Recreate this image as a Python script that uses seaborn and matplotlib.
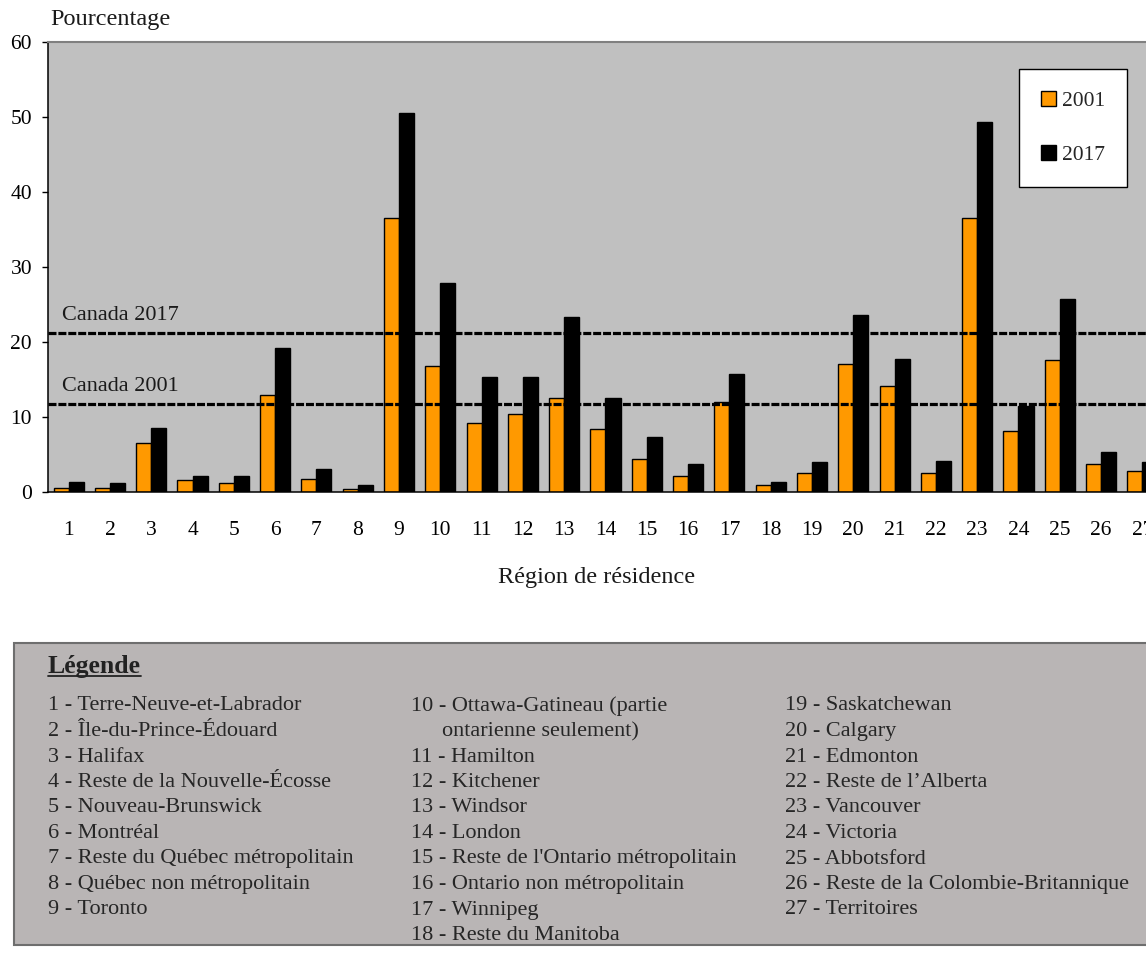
import numpy as np
import pandas as pd
import matplotlib
matplotlib.use("Agg")
import matplotlib.pyplot as plt
import seaborn as sns
from matplotlib.patches import Patch, Rectangle
from matplotlib.lines import Line2D

# ── Data ──────────────────────────────────────────────────────
regions = [str(i) for i in range(1, 28)]
years = ["2001", "2017"]
pct_2001 = [0.6, 0.6, 6.6, 1.6, 1.2, 12.9, 1.8, 0.4, 36.5, 16.8, 9.2, 10.4, 12.6, 8.4,
            4.4, 2.1, 12.0, 0.9, 2.5, 17.1, 14.2, 2.5, 36.5, 8.2, 17.6, 3.7, 2.8]
pct_2017 = [1.4, 1.2, 8.5, 2.2, 2.2, 19.2, 3.1, 1.0, 50.6, 27.9, 15.4, 15.4, 23.3, 12.6,
            7.3, 3.7, 15.7, 1.3, 4.0, 23.6, 17.8, 4.2, 49.4, 11.5, 25.8, 5.4, 4.0]
canada_2001 = 11.7
canada_2017 = 21.2
colors = ["#FF9900", "#000000"]

legend_col1 = ["1 - Terre-Neuve-et-Labrador", "2 - Île-du-Prince-Édouard", "3 - Halifax",
               "4 - Reste de la Nouvelle-Écosse", "5 - Nouveau-Brunswick", "6 - Montréal",
               "7 - Reste du Québec métropolitain", "8 - Québec non métropolitain",
               "9 - Toronto"]
legend_col2 = ["10 - Ottawa-Gatineau (partie", "ontarienne seulement)", "11 - Hamilton",
               "12 - Kitchener", "13 - Windsor", "14 - London",
               "15 - Reste de l'Ontario métropolitain", "16 - Ontario non métropolitain",
               "17 - Winnipeg", "18 - Reste du Manitoba"]
legend_col3 = ["19 - Saskatchewan", "20 - Calgary", "21 - Edmonton", "22 - Reste de l\u2019Alberta",
               "23 - Vancouver", "24 - Victoria", "25 - Abbotsford",
               "26 - Reste de la Colombie-Britannique", "27 - Territoires"]

df = pd.DataFrame({
    "region": regions * 2,
    "year": [years[0]] * len(regions) + [years[1]] * len(regions),
    "pct": pct_2001 + pct_2017,
})

# ── Figure ────────────────────────────────────────────────────
sns.set_theme(style="white")
plt.rcParams["font.family"] = ["Liberation Serif", "DejaVu Serif"]

W, H = 1146, 957
fig = plt.figure(figsize=(W / 100, H / 100), dpi=100)
ax = fig.add_axes([48 / W, 1 - 492 / H, 1115 / W, 450 / H])

sns.barplot(data=df, x="region", y="pct", hue="year", order=regions, hue_order=years,
            palette=colors, saturation=1, width=0.73, edgecolor="black", linewidth=1,
            ax=ax, legend=False, zorder=2)

ax.set_facecolor("#C0C0C0")
ax.set_xlim(-0.5, 26.5)
ax.set_ylim(0, 60)
ax.set_xlabel("")
ax.set_ylabel("")

# Canada reference lines
for val, lab in [(canada_2017, "Canada 2017"), (canada_2001, "Canada 2001")]:
    ax.axhline(val, color="black", lw=2.3, ls=(0, (2.5, 0.6)), zorder=3)
    ax.text(-0.16, val + 1.1, lab, fontsize=16, color="#1a1a1a", va="bottom", ha="left")

# Ticks
ax.set_xticks(range(len(regions)))
ax.set_xticklabels(regions)
ax.set_xticks(np.arange(-0.5, len(regions), 1), minor=True)
ax.tick_params(axis="x", which="major", length=0, pad=21, labelsize=15.5, colors="black")
ax.tick_params(axis="x", which="minor", length=5, width=1, direction="out", color="black")
ax.set_yticks(range(0, 61, 10))
ax.tick_params(axis="y", length=4.5, width=1, direction="out", pad=7, labelsize=15.5,
               colors="black", left=True)

for side in ["left", "bottom"]:
    ax.spines[side].set_color("black")
    ax.spines[side].set_linewidth(1.1)
ax.spines["top"].set_color("#808080")
ax.spines["top"].set_linewidth(1.5)
ax.spines["right"].set_visible(False)

# Year legend
handles = [Patch(facecolor=c, edgecolor="black", lw=1) for c in colors]
leg = ax.legend(handles, years, loc="upper left", bbox_to_anchor=(1019 / W, 1 - 69 / H),
                bbox_transform=fig.transFigure, frameon=True, fancybox=False,
                edgecolor="black", framealpha=1, fontsize=15.5, labelspacing=1.6,
                handlelength=0.7, handleheight=0.7, handletextpad=0.3,
                borderpad=1.0, borderaxespad=0)
leg.get_frame().set_linewidth(1)

# Axis titles
fig.text(50 / W, 1 - 20 / H, "Pourcentage", fontsize=17.5, va="center", ha="left", color="#1a1a1a")
fig.text(597 / W, 1 - 577 / H, "Région de résidence", fontsize=17.5, va="center", ha="center",
         color="#1a1a1a")

# ── Region key box ────────────────────────────────────────────
fig.add_artist(Rectangle((14 / W, 1 - 945 / H), 1.2, 302 / H, transform=fig.transFigure,
                         facecolor="#B9B5B5", edgecolor="#6E6E6E", lw=1.5))

title = fig.text(48 / W, 1 - 673 / H, "Légende", fontsize=18.5, fontweight="bold",
                 va="baseline", ha="left", color="#222222")
fig.canvas.draw()
bb = title.get_window_extent()
fig.add_artist(Line2D([bb.x0 / W, bb.x1 / W], [1 - 676 / H] * 2, transform=fig.transFigure,
                      color="#222222", lw=1.3))

row0, step = 706, 25.5
for x0, col in [(48, legend_col1), (411, legend_col2), (785, legend_col3)]:
    for i, s in enumerate(col):
        indent = 0 if s[0].isdigit() else 31
        fig.text((x0 + indent) / W, 1 - (row0 + i * step) / H, s, fontsize=16,
                 va="center", ha="left", color="#262626")

fig.savefig("out.png", dpi=100)
